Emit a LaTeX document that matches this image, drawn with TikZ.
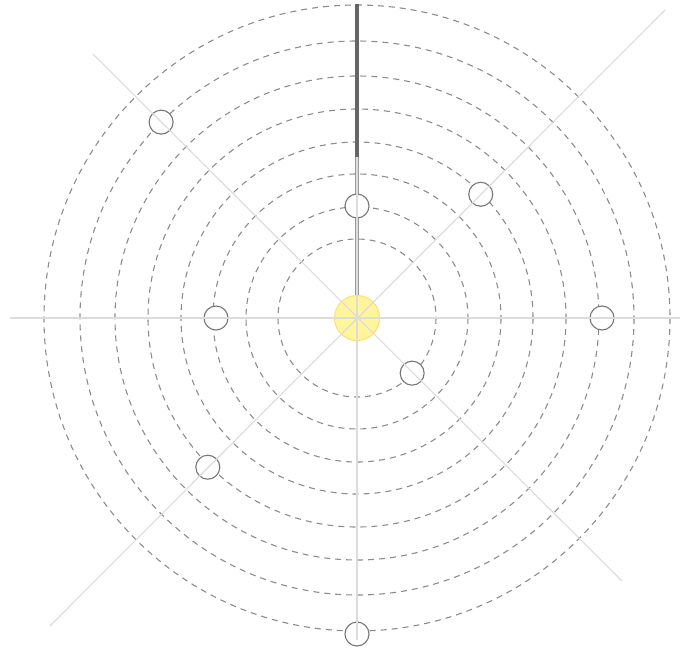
\documentclass[tikz,border=0pt]{standalone}
\usepackage{tikz}
\usetikzlibrary{calc}
\definecolor{orbitgray}{HTML}{8C8C8C}
\definecolor{ringgray}{HTML}{767676}
\definecolor{axisgray}{HTML}{DCDCDC}
\definecolor{taildark}{HTML}{666666}
\definecolor{taillight}{HTML}{9C9C9C}
\definecolor{sunfill}{HTML}{FFF59A}
\definecolor{sunedge}{HTML}{FFDD70}

\begin{document}
\begin{tikzpicture}[x=1pt,y=-1pt,
  orbit/.style={draw=orbitgray,line width=1.1pt,dash pattern=on 6pt off 5pt},
  planet/.style={circle,draw=ringgray,fill=white,line width=1.1pt,minimum size=24pt,inner sep=0pt},
  axisline/.style={draw=axisgray,line width=1.1pt},
  tail/.style={line width=3.2pt}]
\useasboundingbox (0,0) rectangle (681,648);
\coordinate (c) at (357,318);
% orbits
\foreach \r in {79,111,144,176,209,242,277,313}
  \draw[orbit] (c) circle[radius=\r];
% the tail above the sun
\coordinate (tailmid) at (357,157);
\coordinate (tailtop) at (357,4);
\coordinate (sunrim) at (357,296);
\draw[tail,taillight] (sunrim) -- (tailmid);
\draw[tail,taildark] (tailmid) -- (tailtop);
% planets
\foreach \n/\r/\a in {1/78/-45,2/112/90,3/141/180,4/175/45,5/211/225,6/245/0,7/277/135,8/316/270}
  \node[planet] (p\n) at ($(c)+(\a:\r pt)$) {};
% sun
\node[circle,fill=sunfill,draw=sunedge,line width=1pt,minimum size=45pt,inner sep=0pt] (sun) at (c) {};
% axes
\coordinate (hl) at (10,318);
\coordinate (hr) at (680,318);
\coordinate (vt) at (357,157);
\coordinate (vb) at (357,640);
\coordinate (dl) at (93,54);
\coordinate (dr) at (622,581);
\coordinate (el) at (50,626);
\coordinate (er) at (665,10);
\draw[axisline] (hl) -- (hr);
\draw[axisline] (vt) -- (vb);
\draw[axisline] (dl) -- (dr);
\draw[axisline] (el) -- (er);
\end{tikzpicture}
\end{document}
